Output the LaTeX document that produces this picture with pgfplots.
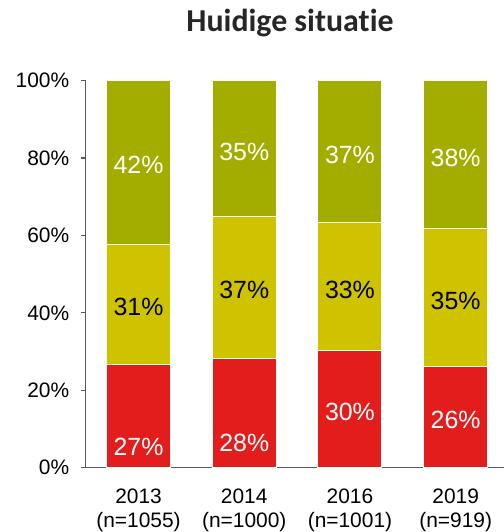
\documentclass[border=0pt]{standalone}
\usepackage{pgfplots}
\pgfplotsset{compat=1.18}
\usepackage{pgfplotstable}
\usepackage{fontspec}
\setmainfont{Liberation Sans}
\newfontfamily\titlefont[Ligatures=NoCommon]{Carlito}
\definecolor{cRed}{HTML}{E31D1C}
\definecolor{cYel}{HTML}{CFC300}
\definecolor{cGrn}{HTML}{A3AD00}
\definecolor{axgray}{HTML}{595959}
\definecolor{titlegray}{HTML}{262626}

\pgfplotstableread{
x h lab dy
0 26.7 27 -31
1 28.3 28 -30
2 30.3 30 -3
3 26.1 26 -3
}\redtab
\pgfplotstableread{
x h lab dy
0 31.1 31 -3
1 36.6 37 -3
2 33.0 33 -3
3 35.7 35 -3
}\yeltab
\pgfplotstableread{
x h lab dy
0 42.2 42 -3
1 35.1 35 -3
2 36.7 37 -3
3 38.2 38 -3
}\grntab

\begin{document}
\begin{tikzpicture}
\useasboundingbox (-85.7bp,-64.3bp) rectangle (418.3bp,467.7bp);
\begin{axis}[
  at={(0,0)}, anchor=south west, scale only axis,
  x=105.7bp, y=3.87bp,
  xmin=-0.5, xmax=3.46, ymin=0, ymax=100,
  ybar stacked, bar width=64bp,
  axis x line*=bottom, axis y line*=left,
  axis line style={draw=axgray, line width=1.2bp},
  ytick={0,20,...,100},
  yticklabel={\pgfmathprintnumber{\tick}\%},
  tick align=outside, major tick length=5bp,
  y tick style={draw=axgray, line width=1.2bp},
  xtick={0,1,2,3}, xtick style={draw=none},
  xticklabels={{2013\\(n=1055)},{2014\\(n=1000)},{2016\\(n=1001)},{2019\\(n=919)}},
  xticklabel style={align=center, font=\fontsize{21}{24}\selectfont, yshift=-13bp},
  yticklabel style={font=\fontsize{21}{24}\selectfont, xshift=-8bp},
  /pgf/number format/assume math mode=true,
  nodes near coords={\pgfplotspointmeta\%},
  point meta=explicit symbolic,
  visualization depends on={\thisrow{dy} \as \dy},
  every node near coord/.append style={anchor=center, yshift={\dy bp}, font=\fontsize{25}{30}\selectfont},
]
\addplot[fill=cRed, draw=white, line width=1bp, nodes near coords style={text=white}] table[x=x, y=h, meta=lab]{\redtab};
\addplot[fill=cYel, draw=white, line width=1bp, nodes near coords style={text=black}] table[x=x, y=h, meta=lab]{\yeltab};
\addplot[fill=cGrn, draw=white, line width=1bp, nodes near coords style={text=white}] table[x=x, y=h, meta=lab]{\grntab};
\end{axis}
\node[anchor=base, font=\titlefont\fontsize{32}{38}\selectfont\bfseries, text=titlegray] at (204.3bp,436bp) {Huidige situatie};
\end{tikzpicture}
\end{document}
